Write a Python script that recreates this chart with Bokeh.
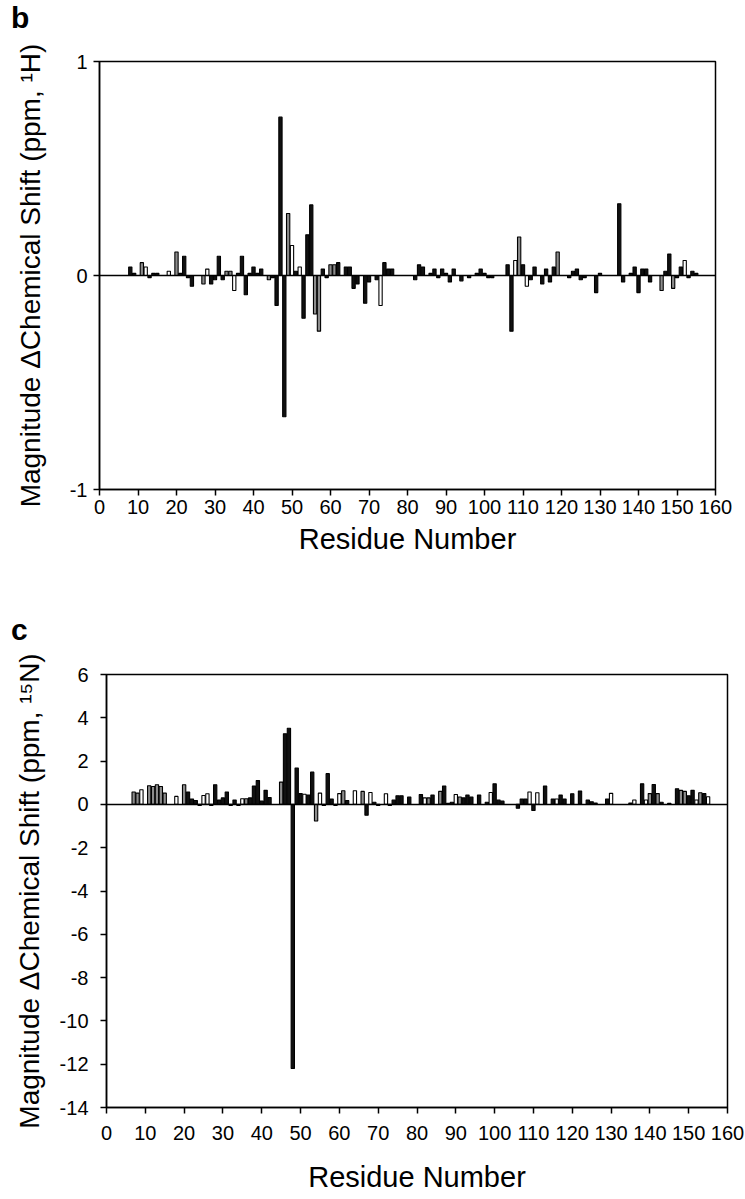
from bokeh.plotting import figure
from bokeh.models import Span, FixedTicker, ColumnDataSource, CustomJSTickFormatter, Div
from bokeh.transform import factor_cmap
from bokeh.embed import file_html
from bokeh.resources import INLINE

# ---------------- data: panel b (1H) ----------------
b_res = [8, 9, 11, 12, 13, 14, 15, 18, 20, 21, 22, 23, 24, 27, 28, 29, 30, 31, 32, 33, 34,
         35, 36, 37, 38, 39, 40, 41, 42, 44, 45, 46, 47, 48, 49, 50, 51, 52, 53, 54, 55,
         56, 57, 58, 59, 60, 61, 62, 64, 65, 66, 67, 69, 70, 72, 73, 74, 75, 76,
         82, 83, 84, 86, 87, 88, 89, 90, 91, 92, 94, 96, 98, 99, 100, 101, 102,
         106, 107, 108, 109, 110, 111, 112, 113, 115, 116, 117, 118, 119,
         122, 123, 124, 125, 126, 129, 130, 135, 136, 138, 139, 140, 141, 142, 143,
         146, 147, 148, 149, 150, 151, 152, 153, 154, 155]
b_val = [0.04, 0.01, 0.06, 0.04, -0.01, 0.01, 0.01, 0.02, 0.11, 0.01, 0.09, -0.01, -0.05, -0.04, 0.03, -0.04, -0.02, 0.09, -0.02, 0.02, 0.02,
         -0.07, 0.01, 0.09, -0.09, 0.01, 0.04, 0.01, 0.03, -0.02, -0.01, -0.14, 0.74, -0.66, 0.29, 0.14, 0.02, 0.04, -0.20, 0.19, 0.33,
         -0.18, -0.26, 0.03, -0.01, 0.05, 0.05, 0.06, 0.04, 0.04, -0.06, -0.04, -0.13, -0.03, -0.02, -0.14, 0.06, 0.03, 0.03,
         -0.02, 0.05, 0.04, 0.01, 0.03, -0.01, 0.03, 0.01, -0.03, 0.03, -0.025, -0.01, 0.01, 0.03, 0.01, -0.01, -0.01,
         0.05, -0.26, 0.07, 0.18, 0.05, -0.05, -0.02, 0.04, -0.04, 0.03, -0.03, 0.04, 0.11,
         -0.01, 0.02, 0.03, -0.02, -0.01, -0.08, 0.01, 0.335, -0.03, 0.01, 0.04, -0.08, 0.03, 0.03, -0.03,
         -0.07, 0.02, 0.10, -0.06, -0.01, 0.04, 0.07, -0.01, 0.02, 0.01]
b_kind = ["dark", "dark", "shaded", "open", "dark", "dark", "dark", "open", "shaded", "dark", "dark", "dark", "dark", "shaded", "open", "dark", "dark", "dark", "dark", "shaded", "shaded",
          "open", "dark", "dark", "dark", "dark", "dark", "dark", "dark", "shaded", "dark", "dark", "dark", "dark", "shaded", "open", "dark", "open", "dark", "dark", "dark",
          "shaded", "shaded", "dark", "dark", "shaded", "shaded", "dark", "dark", "dark", "dark", "dark", "dark", "dark", "dark", "open", "dark", "dark", "dark",
          "dark", "dark", "dark", "dark", "dark", "dark", "dark", "dark", "dark", "dark", "dark", "dark", "dark", "dark", "dark", "dark", "dark",
          "dark", "dark", "open", "shaded", "dark", "open", "dark", "dark", "dark", "dark", "dark", "dark", "shaded",
          "dark", "dark", "dark", "dark", "dark", "dark", "dark", "dark", "dark", "dark", "dark", "dark", "dark", "dark", "dark",
          "shaded", "dark", "dark", "shaded", "dark", "dark", "open", "dark", "dark", "dark"]

# ---------------- data: panel c (15N) ----------------
c_res = [7, 8, 9, 11, 12, 13, 14, 15, 18, 20, 21, 22, 23, 24, 25, 26, 27, 28, 29, 30, 31, 32, 33, 34,
         35, 36, 37, 38, 39, 40, 41, 42, 45, 46, 47, 48, 49, 50, 51, 52, 53, 54, 55, 56, 57, 58, 59,
         60, 61, 62, 64, 66, 67, 68, 69, 70, 72, 73, 74, 75, 76, 78, 81, 82, 83, 84, 86, 87, 88, 89,
         90, 91, 92, 93, 94, 96, 98, 99, 100, 101, 102, 106, 107, 108, 109, 110, 111, 113, 115, 116,
         117, 118, 120, 122, 124, 125, 126, 129, 130, 135, 136, 138, 139, 140, 141, 142, 143, 145,
         147, 148, 149, 150, 151, 152, 153, 154, 155]
c_val = [0.57, 0.52, 0.68, 0.86, 0.83, 0.91, 0.83, 0.52, 0.37, 0.91, 0.57, 0.25, 0.18, -0.05, 0.41, 0.49, -0.05, 0.91, 0.20, 0.30, 0.57, -0.05, 0.20, -0.05,
         0.26, 0.26, 0.30, 0.85, 1.10, 0.15, 0.65, 0.32, 1.03, 3.26, 3.52, -12.2, 1.68, 0.50, 0.47, 0.43, 1.49, -0.77, 0.52, -0.05, 1.42, 0.25, -0.05,
         0.50, 0.63, 0.18, 0.63, 0.60, -0.50, 0.55, 0.10, -0.05, 0.49, -0.05, 0.20, 0.40, 0.40, 0.34, 0.46, 0.30, 0.30, 0.43, 0.60, 0.85, 0.05, 0.10,
         0.46, 0.34, 0.30, 0.43, 0.34, 0.43, 0.10, 0.55, 0.95, 0.20, 0.15, -0.18, 0.25, 0.25, 0.57, -0.28, 0.54, 0.85, 0.25, 0.25,
         0.43, 0.25, 0.49, 0.62, 0.20, 0.12, 0.06, 0.25, 0.51, 0.06, 0.20, 0.95, 0.20, 0.50, 0.92, 0.50, 0.10, 0.05,
         0.72, 0.65, 0.60, 0.40, 0.65, 0.20, 0.54, 0.50, 0.35]
c_kind = ["shaded", "shaded", "open", "shaded", "shaded", "shaded", "shaded", "shaded", "open", "shaded", "dark", "dark", "dark", "dark", "open", "open", "dark", "dark", "dark", "dark", "dark", "dark", "dark", "dark",
          "open", "shaded", "dark", "dark", "dark", "dark", "dark", "dark", "shaded", "dark", "dark", "dark", "dark", "dark", "open", "dark", "dark", "shaded", "open", "dark", "dark", "dark", "dark",
          "open", "shaded", "dark", "open", "shaded", "dark", "open", "dark", "dark", "open", "dark", "dark", "dark", "dark", "dark", "dark", "open", "shaded", "dark", "shaded", "dark", "dark", "dark",
          "open", "shaded", "dark", "dark", "dark", "dark", "dark", "open", "dark", "dark", "dark", "dark", "dark", "dark", "open", "dark", "open", "dark", "dark", "open",
          "dark", "dark", "dark", "dark", "dark", "dark", "dark", "dark", "open", "dark", "open", "dark", "open", "shaded", "dark", "shaded", "dark", "dark",
          "dark", "shaded", "shaded", "dark", "dark", "open", "shaded", "dark", "open"]

x_ticks = list(range(0, 161, 10))
b_ticks = [-1, 0, 1]
c_ticks = list(range(-14, 7, 2))

KINDS = ["dark", "shaded", "open"]
PALETTE = ["#111111", "#8c8c8c", "#ffffff"]
FONT = "Liberation Sans"


def letter_div(letter, w, h):
    return Div(text=letter, width=w, height=h, margin=0,
               styles={"font-family": FONT, "font-size": "30px", "font-weight": "bold",
                       "line-height": f"{h}px", "padding-left": "11px", "color": "black",
                       "overflow": "visible"})


def make_panel(res, val, kind, yr, yticks, ylabel, w, h, mbt, mbb, mbl, mbr,
               ylab_standoff, ytick_standoff, xtick_standoff, xlab_standoff):
    p = figure(width=w, height=h, x_range=(0, 160), y_range=yr,
               output_backend="svg", toolbar_location=None,
               min_border_top=mbt, min_border_bottom=mbb,
               min_border_left=mbl, min_border_right=mbr)
    p.xgrid.visible = False
    p.ygrid.visible = False
    p.outline_line_color = "black"
    p.outline_line_width = 1.5
    p.background_fill_color = "white"
    p.border_fill_color = "white"

    src = ColumnDataSource(dict(x=res, top=val, kind=kind))
    p.vbar(x="x", top="top", bottom=0, width=0.85, source=src,
           fill_color=factor_cmap("kind", PALETTE, KINDS),
           line_color="black", line_width=1.1)
    p.add_layout(Span(location=0, dimension="width", line_color="black", line_width=1.5))

    fmt = CustomJSTickFormatter(code="return tick.toFixed(0);")
    for ax in (p.xaxis[0], p.yaxis[0]):
        ax.axis_line_width = 1.5
        ax.major_tick_line_width = 1.5
        ax.major_tick_out = 6
        ax.major_tick_in = 0
        ax.minor_tick_out = 0
        ax.minor_tick_in = 0
        ax.major_label_text_font = FONT
        ax.major_label_text_font_size = "20px"
        ax.major_label_text_color = "black"
        ax.axis_label_text_font = FONT
        ax.axis_label_text_font_style = "normal"
        ax.axis_label_text_color = "black"
        ax.formatter = fmt

    p.xaxis.ticker = FixedTicker(ticks=x_ticks)
    p.xaxis.axis_label = "Residue Number"
    p.xaxis.axis_label_text_font_size = "29px"
    p.xaxis.major_label_standoff = xtick_standoff
    p.xaxis.axis_label_standoff = xlab_standoff

    p.yaxis.ticker = FixedTicker(ticks=yticks)
    p.yaxis.axis_label = ylabel
    p.yaxis.axis_label_text_font_size = "28px"
    p.yaxis.major_label_standoff = ytick_standoff
    p.yaxis.axis_label_standoff = ylab_standoff
    return p


div_b = letter_div("b", 737, 36)
pb = make_panel(b_res, b_val, b_kind, (-1, 1), b_ticks,
                "Magnitude \u0394Chemical Shift (ppm, \u00b9H)",
                737, 576, 25, 123, 99, 22,
                21, 6, 4, 6)
div_c = letter_div("c", 745, 36)
pc = make_panel(c_res, c_val, c_kind, (-14, 6), c_ticks,
                "Magnitude \u0394Chemical Shift (ppm, \u00b9\u2075N)",
                745, 548, 26, 89, 106, 18,
                12, 12, 12, 18)

open("out.html", "w").write(file_html([div_b, pb, div_c, pc], INLINE))
